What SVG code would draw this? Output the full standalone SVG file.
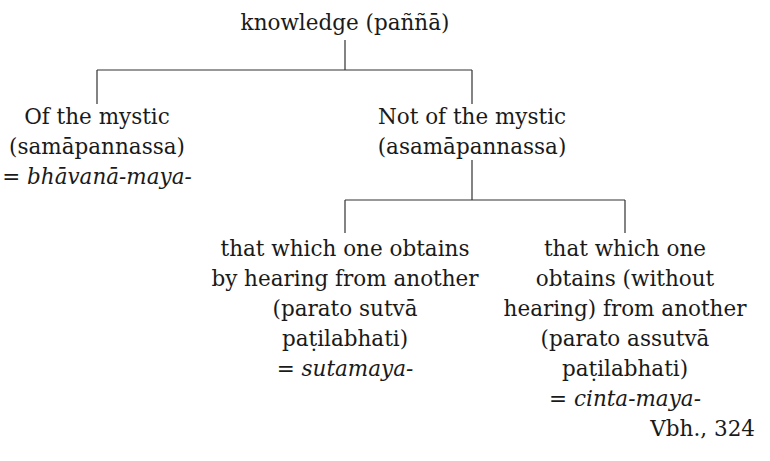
<svg xmlns="http://www.w3.org/2000/svg" width="770" height="461" viewBox="0 0 770 461">
  <style>
    .t text { font-size: 21.5px; fill: #1a1a1a; text-anchor: middle; }
    .t .it { font-style: italic; }
    .t .end { text-anchor: end; }
    .link { stroke: #333; stroke-width: 1.2; fill: none; }
  </style>
  <rect width="770" height="461" fill="#fff"/>
  <g id="connectors">
    <path class="link" d="M345,40 V70 M97,70 H472 M97,70 V104 M472,70 V104"/>
    <path class="link" d="M472,160 V200 M345,200 H625 M345,200 V233 M625,200 V233"/>
  </g>
  <g class="t" font-family="DejaVu Serif, serif">
    <g id="root">
      <text x="345" y="30">knowledge (paññā)</text>
    </g>
    <g id="mystic">
      <text x="97" y="124">Of the mystic</text>
      <text x="97" y="154">(samāpannassa)</text>
      <text x="97" y="184">= <tspan class="it">bhāvanā-maya-</tspan></text>
    </g>
    <g id="not-mystic">
      <text x="472" y="124">Not of the mystic</text>
      <text x="472" y="154">(asamāpannassa)</text>
    </g>
    <g id="hearing">
      <text x="345" y="256">that which one obtains</text>
      <text x="345" y="286">by hearing from another</text>
      <text x="345" y="316">(parato sutvā</text>
      <text x="345" y="346">paṭilabhati)</text>
      <text x="345" y="376">= <tspan class="it">sutamaya-</tspan></text>
    </g>
    <g id="not-hearing">
      <text x="625" y="256">that which one</text>
      <text x="625" y="286">obtains (without</text>
      <text x="625" y="316">hearing) from another</text>
      <text x="625" y="346">(parato assutvā</text>
      <text x="625" y="376">paṭilabhati)</text>
      <text x="625" y="406">= <tspan class="it">cinta-maya-</tspan></text>
    </g>
    <g id="source">
      <text class="end" x="755" y="436">Vbh., 324</text>
    </g>
  </g>
</svg>
